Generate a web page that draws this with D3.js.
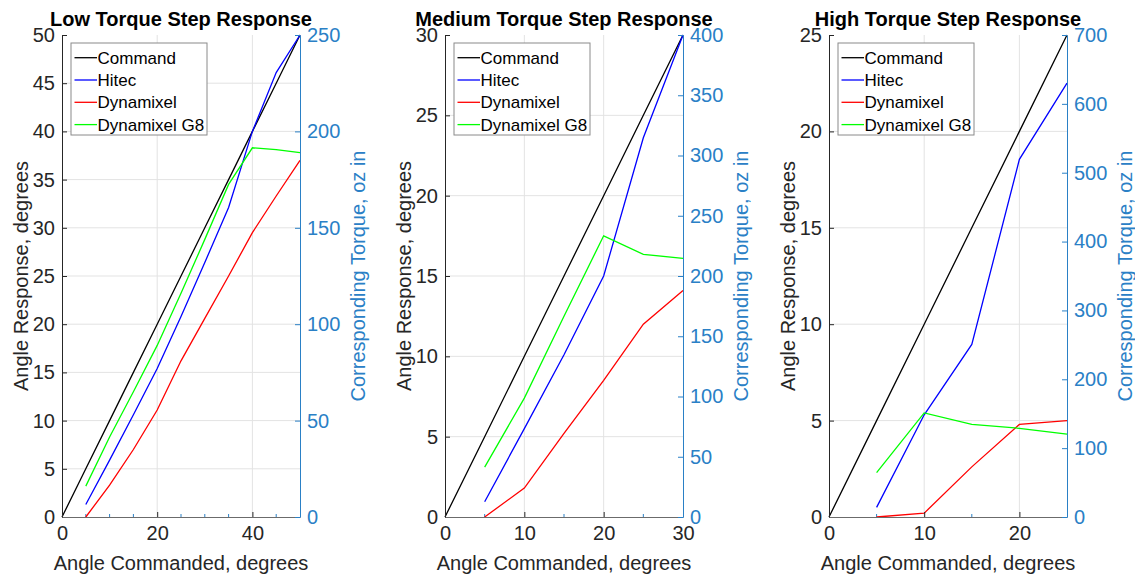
<!DOCTYPE html>
<html lang="en"><head>
<meta charset="utf-8">
<title>Torque Step Response</title>
<script src="https://cdnjs.cloudflare.com/ajax/libs/d3/7.8.5/d3.min.js"></script>
<style>
  body { margin: 0; background: #fff; }
  svg text { font-family: "Liberation Sans", Arial, sans-serif; }
</style>
</head>
<body>
<svg id="chart" width="1135" height="575"></svg>
<script>
// data
var seriesNames = ["Command", "Hitec", "Dynamixel", "Dynamixel G8"];
var seriesColors = ["#000000", "#0000ff", "#ff0000", "#00ff00"];

var lowTitle = "Low Torque Step Response";
var lowCmdX = [0, 5, 10, 15, 20, 25, 30, 35, 40, 45, 50];
var lowCmd = [0, 5, 10, 15, 20, 25, 30, 35, 40, 45, 50];
var lowX = [5, 10, 15, 20, 25, 30, 35, 40, 45, 50];
var lowHitec = [1.3, 5.9, 10.6, 15.4, 20.8, 26.4, 32.1, 40.0, 46.1, 50.0];
var lowDyna = [0, 3.3, 7.0, 11.1, 16.2, 20.6, 25.0, 29.5, 33.3, 37.0];
var lowG8 = [3.2, 8.3, 13.0, 17.8, 23.2, 28.8, 34.5, 38.3, 38.1, 37.8];
var lowXTicks = [0, 20, 40];
var lowYTicks = [0, 5, 10, 15, 20, 25, 30, 35, 40, 45, 50];
var lowRTicks = [0, 50, 100, 150, 200, 250];

var medTitle = "Medium Torque Step Response";
var medCmdX = [0, 5, 10, 15, 20, 25, 30];
var medCmd = [0, 5, 10, 15, 20, 25, 30];
var medX = [5, 10, 15, 20, 25, 30];
var medHitec = [0.95, 5.5, 10.1, 15.0, 23.6, 30.0];
var medDyna = [0, 1.8, 5.2, 8.5, 12.0, 14.1];
var medG8 = [3.1, 7.4, 12.5, 17.5, 16.35, 16.1];
var medXTicks = [0, 10, 20, 30];
var medYTicks = [0, 5, 10, 15, 20, 25, 30];
var medRTicks = [0, 50, 100, 150, 200, 250, 300, 350, 400];

var highTitle = "High Torque Step Response";
var highCmdX = [0, 5, 10, 15, 20, 25];
var highCmd = [0, 5, 10, 15, 20, 25];
var highX = [5, 10, 15, 20, 25];
var highHitec = [0.5, 5.3, 8.95, 18.55, 22.5];
var highDyna = [0, 0.2, 2.6, 4.8, 5.0];
var highG8 = [2.3, 5.4, 4.8, 4.6, 4.3];
var highXTicks = [0, 10, 20];
var highYTicks = [0, 5, 10, 15, 20, 25];
var highRTicks = [0, 100, 200, 300, 400, 500, 600, 700];

var panels = [
  {title: lowTitle, left: 62, xMax: 50, yMax: 50, rMax: 250, cmdX: lowCmdX, cmd: lowCmd, x: lowX,
   series: [lowHitec, lowDyna, lowG8], xTicks: lowXTicks, yTicks: lowYTicks, rTicks: lowRTicks},
  {title: medTitle, left: 445, xMax: 30, yMax: 30, rMax: 400, cmdX: medCmdX, cmd: medCmd, x: medX,
   series: [medHitec, medDyna, medG8], xTicks: medXTicks, yTicks: medYTicks, rTicks: medRTicks},
  {title: highTitle, left: 829, xMax: 25, yMax: 25, rMax: 700, cmdX: highCmdX, cmd: highCmd, x: highX,
   series: [highHitec, highDyna, highG8], xTicks: highXTicks, yTicks: highYTicks, rTicks: highRTicks}
];

var svg = d3.select("#chart");
var plotTop = 35, plotBottom = 517, plotW = 238;
var axisBlue = "#2a80c6";
var axisGrey = "#262626";

panels.forEach(function(p) {
  var x = d3.scaleLinear().domain([0, p.xMax]).range([p.left, p.left + plotW]);
  var y = d3.scaleLinear().domain([0, p.yMax]).range([plotBottom, plotTop]);
  var yr = d3.scaleLinear().domain([0, p.rMax]).range([plotBottom, plotTop]);
  var right = p.left + plotW;
  var g = svg.append("g");

  // grid
  g.selectAll(".gx").data(p.xTicks.filter(function(t){ return t > 0 && t < p.xMax; }))
    .enter().append("line")
    .attr("x1", function(d){ return x(d); }).attr("x2", function(d){ return x(d); })
    .attr("y1", plotTop).attr("y2", plotBottom)
    .attr("stroke", "#e3e3e3").attr("stroke-width", 1);
  g.selectAll(".gy").data(p.yTicks.filter(function(t){ return t > 0 && t < p.yMax; }))
    .enter().append("line")
    .attr("x1", p.left).attr("x2", right)
    .attr("y1", function(d){ return y(d); }).attr("y2", function(d){ return y(d); })
    .attr("stroke", "#e3e3e3").attr("stroke-width", 1);

  // minor x ticks every 5
  var minor = d3.range(5, p.xMax, 5).filter(function(t){ return p.xTicks.indexOf(t) < 0; });
  g.selectAll(".mx").data(minor).enter().append("line")
    .attr("x1", function(d){ return x(d); }).attr("x2", function(d){ return x(d); })
    .attr("y1", plotBottom).attr("y2", plotBottom - 3)
    .attr("stroke", axisBlue).attr("stroke-width", 1);

  // lines
  var line = d3.line()
    .x(function(d){ return x(d[0]); })
    .y(function(d){ return y(d[1]); });
  g.append("path").datum(d3.zip(p.cmdX, p.cmd))
    .attr("d", line).attr("fill", "none")
    .attr("stroke", seriesColors[0]).attr("stroke-width", 1.3);
  p.series.forEach(function(s, i) {
    g.append("path").datum(d3.zip(p.x, s))
      .attr("d", line).attr("fill", "none")
      .attr("stroke", seriesColors[i + 1]).attr("stroke-width", 1.3);
  });

  // left axis
  var la = g.append("g").attr("transform", "translate(" + p.left + ",0)")
    .call(d3.axisLeft(y).tickValues(p.yTicks).tickSizeInner(-5).tickSizeOuter(0).tickPadding(7));
  la.select(".domain").attr("stroke", axisGrey);
  la.selectAll(".tick line").attr("stroke", axisGrey);
  la.selectAll("text").attr("fill", "#262626").style("font-size", "20px");

  // bottom axis
  var ba = g.append("g").attr("transform", "translate(0," + plotBottom + ")")
    .call(d3.axisBottom(x).tickValues(p.xTicks).tickSizeInner(-5).tickSizeOuter(0).tickPadding(9));
  ba.select(".domain").attr("stroke", "#6b6b6b");
  ba.selectAll(".tick line").attr("stroke", axisGrey);
  ba.selectAll("text").attr("fill", "#262626").style("font-size", "20px");

  // right axis
  var ra = g.append("g").attr("transform", "translate(" + right + ",0)")
    .call(d3.axisRight(yr).tickValues(p.rTicks).tickSizeInner(-5).tickSizeOuter(0).tickPadding(7));
  ra.select(".domain").attr("stroke", axisBlue);
  ra.selectAll(".tick line").attr("stroke", axisBlue);
  ra.selectAll("text").attr("fill", axisBlue).style("font-size", "20px");

  // title and labels
  g.append("text").attr("x", p.left + plotW / 2).attr("y", 26)
    .attr("text-anchor", "middle").style("font-size", "20px").style("font-weight", "bold")
    .attr("fill", "#000").text(p.title);
  g.append("text").attr("x", p.left + plotW / 2).attr("y", 570)
    .attr("text-anchor", "middle").style("font-size", "20px").attr("fill", "#262626")
    .text("Angle Commanded, degrees");
  g.append("text").attr("transform", "translate(" + (p.left - 34.5) + "," + ((plotTop + plotBottom) / 2) + ") rotate(-90)")
    .attr("text-anchor", "middle").style("font-size", "20px").attr("fill", "#262626")
    .text("Angle Response, degrees");
  g.append("text").attr("transform", "translate(" + (right + 65) + "," + ((plotTop + plotBottom) / 2) + ") rotate(-90)")
    .attr("text-anchor", "middle").style("font-size", "20px").attr("fill", axisBlue)
    .text("Corresponding Torque, oz in");

  // legend
  var lx = p.left + 9, ly = 43;
  var lg = g.append("g").attr("transform", "translate(" + lx + "," + ly + ")");
  lg.append("rect").attr("x", 0).attr("y", 0).attr("width", 136).attr("height", 92)
    .attr("fill", "#fff").attr("stroke", "#8a8a8a").attr("stroke-width", 1);
  var rows = lg.selectAll(".row").data(seriesNames).enter().append("g")
    .attr("transform", function(d, i){ return "translate(0," + (14.7 + i * 22.3) + ")"; });
  rows.append("line").attr("x1", 3.5).attr("x2", 26).attr("y1", 0).attr("y2", 0)
    .attr("stroke", function(d, i){ return seriesColors[i]; }).attr("stroke-width", 1.3);
  rows.append("text").attr("x", 26.5).attr("y", 6).style("font-size", "17px")
    .attr("fill", "#000").text(function(d){ return d; });
});
</script>
</body></html>
